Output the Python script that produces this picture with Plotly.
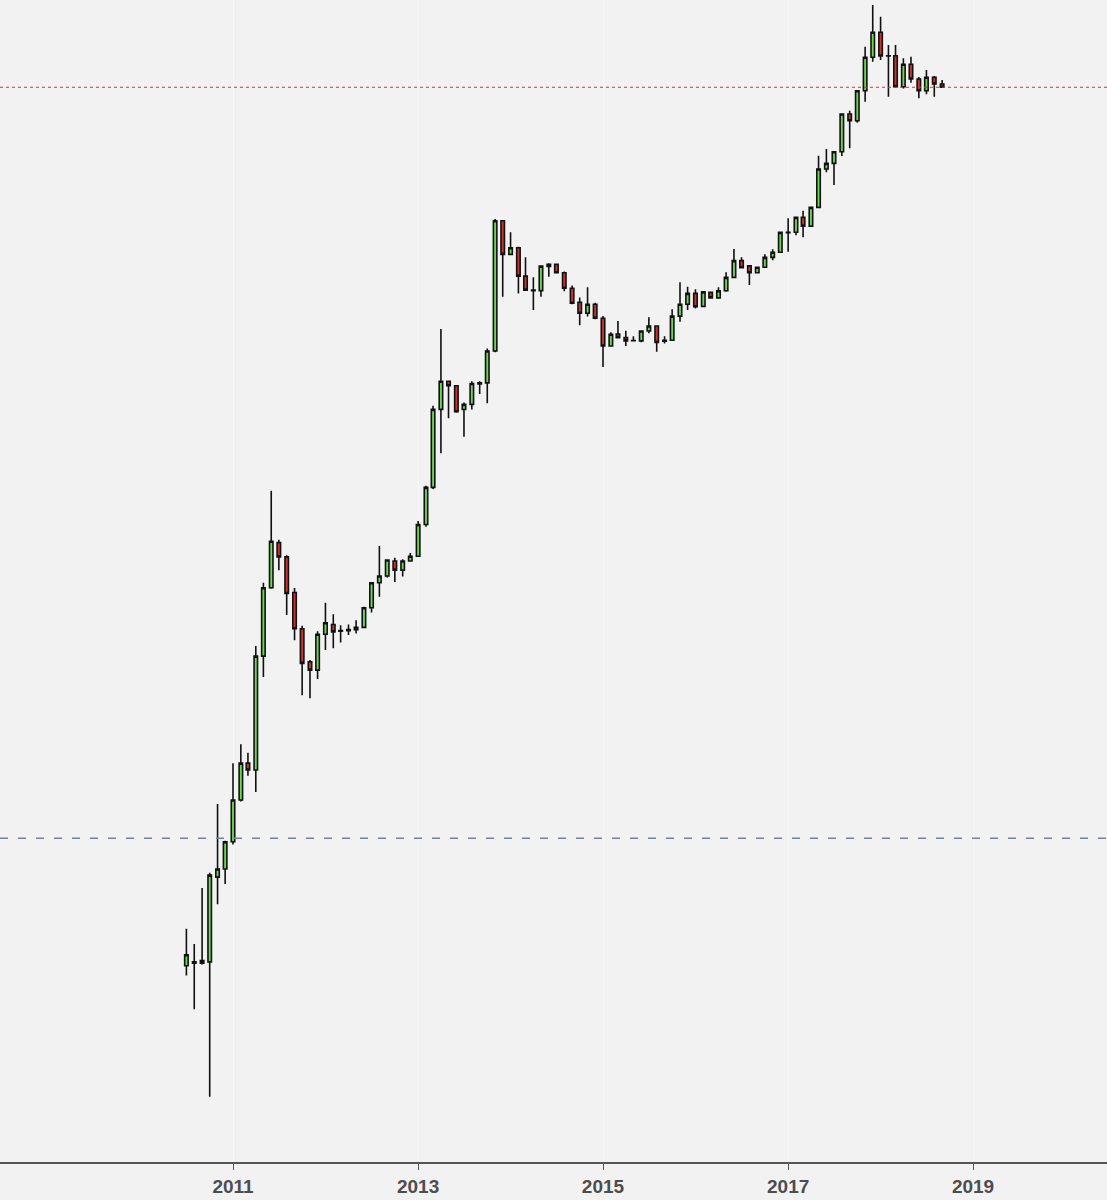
import pandas as pd
import plotly.graph_objects as go

# Monthly candles, Jul 2010 .. Sep 2018 (price, log scale)
opens = [
    0.057, 0.060, 0.059, 0.060, 0.185, 0.206,
    0.296, 0.515, 0.840, 0.767, 3.48, 8.63, 15.7, 13.0, 8.1, 5.0, 3.23, 2.89,
    4.65, 5.3, 4.85, 4.88, 4.95, 5.10, 6.61, 9.22, 10.08, 12.3, 10.9, 12.3,
    13.1, 20.0, 32.7, 92.2, 134, 126, 92, 98.5, 129, 131, 200, 1128,
    722, 789, 541, 449, 446, 615, 632, 566, 460, 382, 330, 372,
    309, 214, 251, 239, 230, 229, 261, 279, 228, 231, 318, 372,
    430, 362, 436, 405, 445, 532, 664, 620, 566, 608, 694, 742,
    963, 968, 1180, 1051, 1348, 2242, 2418, 2820, 4655, 4258, 6345, 9890,
    13785, 10060, 10100, 6692, 9010, 7412, 6345, 7581, 6936,
]
highs = [
    0.093, 0.076, 0.160, 0.196, 0.488, 0.300,
    0.840, 1.08, 0.965, 3.98, 9.22, 31.3, 16.3, 13.3, 8.6, 5.2, 3.3, 4.84,
    7.07, 6.06, 5.25, 5.3, 5.6, 6.7, 9.3, 15.0, 12.6, 12.86, 12.6, 13.7,
    20.9, 33.4, 96.7, 268, 134, 127, 101, 134, 134, 207, 1154, 1128,
    967, 800, 694, 532, 620, 641, 640, 575, 477, 407, 466, 380,
    318, 257, 298, 262, 243, 263, 313, 282, 243, 348, 498, 470,
    455, 440, 441, 466, 570, 775, 694, 625, 612, 722, 772, 975,
    1165, 1190, 1288, 1360, 2675, 2924, 2850, 4700, 4863, 6400, 11380, 19800,
    16950, 11640, 11640, 9757, 9970, 7600, 8352, 7700, 7315,
]
lows = [
    0.050, 0.032, 0.058, 0.010, 0.129, 0.169,
    0.285, 0.505, 0.711, 0.573, 2.64, 8.5, 10.9, 6.0, 4.3, 2.07, 1.99, 2.57,
    3.77, 3.86, 4.17, 4.6, 4.7, 5.05, 6.2, 7.66, 9.9, 9.3, 10.0, 12.2,
    13.0, 19.4, 32.0, 51.4, 81.8, 88, 64.1, 92, 113, 100, 197, 411,
    720, 430, 445, 345, 411, 536, 563, 442, 372, 282, 316, 305,
    162, 212, 236, 214, 228, 225, 253, 198, 221, 230, 295, 345,
    352, 360, 400, 402, 440, 528, 600, 481, 560, 605, 667, 740,
    748, 930, 905, 1040, 1340, 2146, 1813, 2665, 2951, 4150, 5483, 9327,
    9540, 5861, 6603, 6530, 7056, 5737, 6048, 5861, 6600,
]
closes = [
    0.066, 0.059, 0.061, 0.190, 0.206, 0.296,
    0.515, 0.840, 0.767, 3.48, 8.63, 16.0, 13.0, 8.0, 5.0, 3.16, 2.89, 4.65,
    5.42, 4.8, 4.88, 4.95, 5.10, 6.61, 9.22, 10.08, 12.47, 10.9, 12.3, 13.1,
    20.0, 32.7, 92.2, 134, 126, 89.3, 98.5, 130, 131, 200, 1128, 722,
    789, 541, 449, 446, 618, 632, 566, 460, 377, 330, 372, 309,
    214, 250, 239, 229, 229.5, 261, 279, 224, 231, 318, 372, 430,
    360, 439, 405, 445, 532, 664, 604, 566, 608, 694, 742, 967,
    968, 1180, 1051, 1348, 2242, 2418, 2820, 4655, 4258, 6345, 9890, 13785,
    10060, 10100, 6692, 9010, 7412, 6345, 7581, 6936, 6640,
]
months = pd.date_range("2010-07-01", periods=len(closes), freq="MS")

last_close = closes[-1]   # red dotted reference
lower_level = 0.31        # blue dashed reference

GREEN = "#6ad94c"
RED = "#c8352f"
BG = "#f2f2f2"
AXIS = "#555555"

fig = go.Figure()

fig.add_trace(
    go.Candlestick(
        x=months,
        open=opens,
        high=highs,
        low=lows,
        close=closes,
        increasing=dict(fillcolor=GREEN, line=dict(color="#111111", width=1.6)),
        decreasing=dict(fillcolor=RED, line=dict(color="#111111", width=1.6)),
        whiskerwidth=0,
        showlegend=False,
    )
)

fig.add_hline(y=last_close, line=dict(color="#e03030", width=1, dash="dot"))
fig.add_hline(y=lower_level, line=dict(color="#75819a", width=1.4, dash="8px,10px"))

fig.update_xaxes(
    range=["2008-06-25", "2020-06-13"],
    tickvals=["2011-01-01", "2013-01-01", "2015-01-01", "2017-01-01", "2019-01-01"],
    ticktext=["2011", "2013", "2015", "2017", "2019"],
    ticks="outside",
    ticklen=6,
    tickwidth=1.2,
    tickcolor=AXIS,
    showline=True,
    linecolor=AXIS,
    linewidth=1.6,
    showgrid=True,
    gridcolor="#f7f7f7",
    gridwidth=1,
    zeroline=False,
    rangeslider=dict(visible=False),
    tickfont=dict(family="Liberation Sans, Arial, sans-serif", size=19, color="#4d4d4d", weight="bold"),
)
fig.update_yaxes(
    type="log",
    range=[-2.376, 4.3255],
    showticklabels=False,
    showgrid=False,
    zeroline=False,
    showline=False,
    ticks="",
)

fig.update_layout(
    width=1107,
    height=1200,
    margin=dict(l=0, r=0, t=0, b=38),
    paper_bgcolor=BG,
    plot_bgcolor=BG,
    hovermode=False,
)

# the page's default 8px body margin would shift the whole figure
fig.write_html(
    "out.html",
    config={"displayModeBar": False},
    post_script="document.body.style.margin='0';document.body.style.background='#f2f2f2';",
)
